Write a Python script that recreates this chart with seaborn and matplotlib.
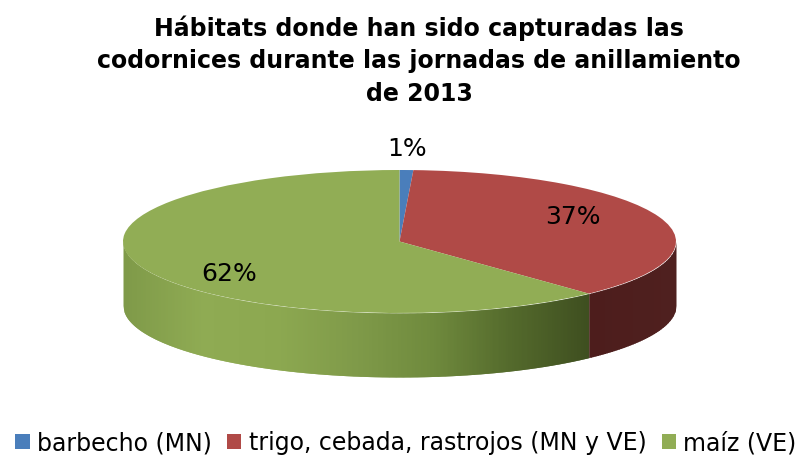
import numpy as np
import matplotlib
matplotlib.use("Agg")
import matplotlib.pyplot as plt
from matplotlib.patches import Patch
import seaborn as sns

categories = ["barbecho (MN)", "trigo, cebada, rastrojos (MN y VE)", "maíz (VE)"]
values = [0.8, 37.2, 62.0]
value_labels = ["1%", "37%", "62%"]
colors = ["#4a7ebb", "#b04a47", "#91ad55"]
title = "Hábitats donde han sido capturadas las\ncodornices durante las jornadas de anillamiento\nde 2013"

sns.set_theme(style="white")
plt.rcParams["font.family"] = ["DejaVu Sans"]
W, H = 796, 457
fig = plt.figure(figsize=(W / 100, H / 100), dpi=100, facecolor="white")
# top face ellipse in pixels: x 123..676, y 170..313
ax = fig.add_axes([123 / W, (H - 313) / H, 553 / W, 143 / H])
depth = 64 / 71.5

startangle = 90
wedges, _ = ax.pie(values, colors=sns.color_palette(colors), startangle=startangle, counterclock=False,
       radius=1, center=(0, 0), wedgeprops=dict(linewidth=0), frame=False)
for w in wedges:
    w.set_zorder(5)
ax.set_aspect("auto")
ax.set_xlim(-1, 1)
ax.set_ylim(-1, 1)
ax.axis("off")

# side wall from the same values
fr = np.cumsum(values) / sum(values)
boundary = np.deg2rad(startangle - 360 * fr[1])
xb = np.cos(boundary)

green_ramp = sns.blend_palette(["#7f9a49", "#8fab53", "#8ca850", "#7f9a49", "#6f8a3d", "#546a2c", "#3f4f20"], 400)
red_ramp = sns.blend_palette(["#4d1d1c", "#4f201f"], 50)
def wall(x0, x1, ramp, n):
    xs = np.linspace(x0, x1, n + 1)
    for i in range(n):
        xx = np.linspace(xs[i], min(xs[i + 1] + 0.004, x1), 4)
        yy = -np.sqrt(np.clip(1 - xx ** 2, 0, 1))
        ax.fill_between(xx, yy - depth, yy, color=ramp[i], linewidth=0, clip_on=False, zorder=1)
wall(-1, xb, green_ramp, 400)
wall(xb, 1, red_ramp, 50)

offs = [(407, 149), (573, 217), (229, 274)]
for lab, (px, py) in zip(value_labels, offs):
    ax.text((px - 399.5) / 276.5, (241.5 - py) / 71.5, lab, ha="center", va="center",
            fontsize=18, color="black", clip_on=False, zorder=10)

fig.text(419 / W, 1 - 60.5 / H, title, ha="center", va="center", fontsize=17,
         fontweight="bold", color="black", linespacing=1.46)

handles = [Patch(facecolor=c, edgecolor="none") for c in colors]
fig.legend(handles, categories, loc="center", bbox_to_anchor=(406 / W, 1 - 443 / H), ncol=3,
           frameon=False, fontsize=17, labelcolor="black", handlelength=0.6, handleheight=0.6,
           handletextpad=0.3, columnspacing=0.67, borderpad=0, borderaxespad=0)
fig.savefig("out.png", dpi=100, facecolor="white")
